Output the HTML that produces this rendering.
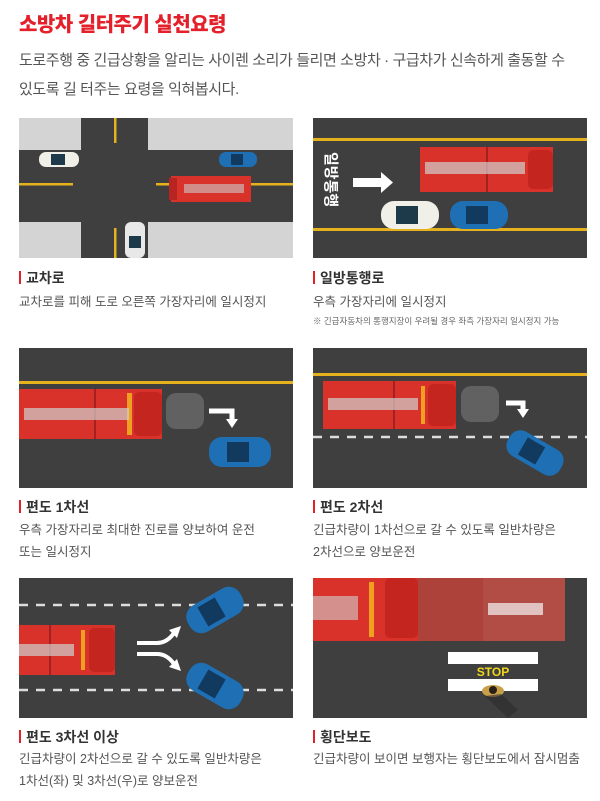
<!DOCTYPE html>
<html><head><meta charset="utf-8">
<style>
*{margin:0;padding:0;box-sizing:border-box}
body{width:600px;height:801px;background:#fff;position:relative;overflow:hidden;font-family:"Liberation Sans","Noto Sans CJK KR",sans-serif;color:#555}
.t{position:absolute;white-space:nowrap}
h1{position:absolute;left:19px;top:8px;font-size:20px;color:#e4202a;font-weight:900;letter-spacing:-0.5px}
.p{position:absolute;width:274px;height:140px}
.lab{position:absolute;font-size:14px;font-weight:bold;color:#333;padding-left:7px;white-space:nowrap}
.lab:before{content:"";position:absolute;left:0;top:3px;width:2px;height:13px;background:#e4202a}
.d{position:absolute;font-size:12.5px;color:#555;white-space:nowrap;line-height:22px}
</style></head><body>
<h1>소방차 길터주기 실천요령</h1>
<div class="t" style="left:19px;top:49px;font-size:15px;letter-spacing:-0.4px">도로주행 중 긴급상황을 알리는 사이렌 소리가 들리면 소방차 · 구급차가 신속하게 출동할 수</div>
<div class="t" style="left:19px;top:78px;font-size:15px;letter-spacing:-0.4px">있도록 길 터주는 요령을 익혀봅시다.</div>

<!-- Panel 1 -->
<svg class="p" style="left:19px;top:118px" viewBox="0 0 274 140">
<rect width="274" height="140" fill="#d4d4d4"/>
<rect x="0" y="32" width="274" height="72" fill="#3f3f3f"/>
<rect x="62" y="0" width="67" height="140" fill="#3f3f3f"/>
<rect x="0" y="65" width="54" height="2.5" fill="#e5b21d"/>
<rect x="137" y="65" width="137" height="2.5" fill="#e5b21d"/>
<rect x="95" y="0" width="2.5" height="25" fill="#e5b21d"/>
<rect x="95" y="110" width="2.5" height="30" fill="#e5b21d"/>
<rect x="20" y="34" width="40" height="15" rx="7" fill="#f0efe8"/><rect x="32" y="36" width="14" height="11" fill="#1d3a4a"/>
<rect x="200" y="34" width="38" height="15" rx="7" fill="#1f6fb5"/><rect x="212" y="36" width="12" height="11" fill="#123a5e"/>
<rect x="152" y="58" width="80" height="26" fill="#d9322b"/><rect x="150" y="60" width="8" height="22" fill="#b72421"/>
<rect x="165" y="66" width="60" height="9" fill="#c9c9c9" opacity=".6"/>
<rect x="106" y="104" width="20" height="36" rx="6" fill="#e8e8e8"/><rect x="110" y="118" width="12" height="12" fill="#1d3a4a"/>
</svg>
<div class="lab" style="left:19px;top:268px">교차로</div>
<div class="d" style="left:19px;top:291px">교차로를 피해 도로 오른쪽 가장자리에 일시정지</div>

<!-- Panel 2 -->
<svg class="p" style="left:313px;top:118px" viewBox="0 0 274 140">
<rect width="274" height="140" fill="#3f3f3f"/>
<rect x="0" y="20" width="274" height="3" fill="#e5b21d"/>
<rect x="0" y="110" width="274" height="3" fill="#e5b21d"/>
<text x="0" y="0" transform="translate(13,34) rotate(90)" font-size="15" font-weight="bold" fill="#fff" font-family="Liberation Sans,Noto Sans CJK KR,sans-serif">일방통행</text>
<rect x="40" y="60" width="28" height="9" fill="#fff"/><polygon points="68,54 80,64.5 68,75" fill="#fff"/>
<rect x="107" y="29" width="133" height="45" fill="#d9322b"/><rect x="173" y="29" width="2" height="45" fill="#a52020"/>
<rect x="215" y="32" width="25" height="39" rx="5" fill="#c4261f"/>
<rect x="112" y="44" width="100" height="12" fill="#cfcfcf" opacity=".7"/>
<rect x="68" y="83" width="58" height="28" rx="13" fill="#f0efe8"/><rect x="83" y="88" width="22" height="18" fill="#1d3a4a"/>
<rect x="137" y="83" width="58" height="28" rx="13" fill="#1f6fb5"/><rect x="153" y="88" width="22" height="18" fill="#123a5e"/>
</svg>
<div class="lab" style="left:313px;top:268px">일방통행로</div>
<div class="d" style="left:313px;top:291px">우측 가장자리에 일시정지</div>
<div class="t" style="left:313px;top:315px;font-size:8.5px;color:#666">※ 긴급자동차의 통행지장이 우려될 경우 좌측 가장자리 일시정지 가능</div>

<!-- Panel 3 -->
<svg class="p" style="left:19px;top:348px" viewBox="0 0 274 140">
<rect width="274" height="140" fill="#3f3f3f"/>
<rect x="0" y="33" width="274" height="3" fill="#e5b21d"/>
<rect x="0" y="41" width="143" height="50" fill="#d9322b"/><rect x="75" y="41" width="2" height="50" fill="#a52020"/>
<rect x="115" y="44" width="28" height="44" rx="5" fill="#c4261f"/><rect x="108" y="45" width="5" height="42" fill="#f0a020"/>
<rect x="5" y="60" width="105" height="12" fill="#cfcfcf" opacity=".7"/>
<rect x="147" y="45" width="38" height="36" rx="10" fill="#6a6a6a" opacity=".8"/>
<path d="M190 63 H213 V72" stroke="#fff" stroke-width="5" fill="none"/><polygon points="207,71 219,71 213,80" fill="#fff"/>
<rect x="190" y="89" width="62" height="30" rx="13" fill="#1f6fb5"/><rect x="208" y="94" width="22" height="20" fill="#123a5e"/>
</svg>
<div class="lab" style="left:19px;top:497px">편도 1차선</div>
<div class="d" style="left:19px;top:519px">우측 가장자리로 최대한 진로를 양보하여 운전<br>또는 일시정지</div>

<!-- Panel 4 -->
<svg class="p" style="left:313px;top:348px" viewBox="0 0 274 140">
<rect width="274" height="140" fill="#3f3f3f"/>
<rect x="0" y="25" width="274" height="3" fill="#e5b21d"/>
<line x1="0" y1="89" x2="274" y2="89" stroke="#ddd" stroke-width="2.5" stroke-dasharray="9 8"/>
<rect x="10" y="33" width="133" height="48" fill="#d9322b"/><rect x="80" y="33" width="2" height="48" fill="#a52020"/>
<rect x="115" y="36" width="28" height="42" rx="5" fill="#c4261f"/><rect x="108" y="38" width="4" height="38" fill="#f0a020"/>
<rect x="15" y="50" width="90" height="12" fill="#cfcfcf" opacity=".7"/>
<rect x="148" y="38" width="38" height="36" rx="10" fill="#6a6a6a" opacity=".8"/>
<path d="M193 55 H210 V62" stroke="#fff" stroke-width="5" fill="none"/><polygon points="204,61 216,61 210,70" fill="#fff"/>
<g transform="translate(222,105) rotate(30)"><rect x="-30" y="-14" width="60" height="28" rx="12" fill="#1f6fb5"/><rect x="-14" y="-10" width="20" height="20" fill="#123a5e"/></g>
</svg>
<div class="lab" style="left:313px;top:497px">편도 2차선</div>
<div class="d" style="left:313px;top:519px">긴급차량이 1차선으로 갈 수 있도록 일반차량은<br>2차선으로 양보운전</div>

<!-- Panel 5 -->
<svg class="p" style="left:19px;top:578px" viewBox="0 0 274 140">
<rect width="274" height="140" fill="#3f3f3f"/>
<line x1="0" y1="27" x2="274" y2="27" stroke="#ddd" stroke-width="2.5" stroke-dasharray="9 8"/>
<line x1="0" y1="112" x2="274" y2="112" stroke="#ddd" stroke-width="2.5" stroke-dasharray="9 8"/>
<rect x="0" y="47" width="96" height="50" fill="#d9322b"/><rect x="30" y="47" width="2" height="50" fill="#a52020"/>
<rect x="70" y="50" width="26" height="44" rx="5" fill="#c4261f"/><rect x="62" y="52" width="4" height="40" fill="#f0a020"/>
<rect x="0" y="66" width="55" height="12" fill="#cfcfcf" opacity=".7"/>
<path d="M118 65 H138 Q148 65 155 55" stroke="#fff" stroke-width="4" fill="none"/><polygon points="150,52 162,48 158,60" fill="#fff"/>
<path d="M118 76 H138 Q148 76 155 86" stroke="#fff" stroke-width="4" fill="none"/><polygon points="150,89 162,93 158,81" fill="#fff"/>
<g transform="translate(196,32) rotate(-30)"><rect x="-30" y="-15" width="60" height="30" rx="13" fill="#1f6fb5"/><rect x="-14" y="-11" width="20" height="22" fill="#123a5e"/></g>
<g transform="translate(196,108) rotate(30)"><rect x="-30" y="-15" width="60" height="30" rx="13" fill="#1f6fb5"/><rect x="-14" y="-11" width="20" height="22" fill="#123a5e"/></g>
</svg>
<div class="lab" style="left:19px;top:727px">편도 3차선 이상</div>
<div class="d" style="left:19px;top:748px">긴급차량이 2차선으로 갈 수 있도록 일반차량은<br>1차선(좌) 및 3차선(우)로 양보운전</div>

<!-- Panel 6 -->
<svg class="p" style="left:313px;top:578px" viewBox="0 0 274 140">
<rect width="274" height="140" fill="#3f3f3f"/>
<rect x="0" y="0" width="105" height="63" fill="#d9322b"/><rect x="72" y="0" width="33" height="60" rx="5" fill="#c4261f"/>
<rect x="56" y="4" width="5" height="55" fill="#f0a020"/><rect x="0" y="18" width="45" height="24" fill="#cfcfcf" opacity=".6"/>
<rect x="105" y="0" width="65" height="63" fill="#c8443a" opacity=".8"/>
<rect x="170" y="0" width="82" height="63" fill="#d9534a" opacity=".75"/>
<rect x="175" y="25" width="55" height="12" fill="#f4f4f4" opacity=".7"/>
<rect x="135" y="74" width="90" height="12" fill="#fff"/>
<rect x="135" y="101" width="90" height="12" fill="#fff"/>
<text x="180" y="98" text-anchor="middle" font-size="12" font-weight="bold" fill="#f0d81c" font-family="Liberation Sans,sans-serif">STOP</text>
<ellipse cx="180" cy="113" rx="11" ry="6" fill="#c9a04a"/><circle cx="180" cy="112" r="4" fill="#2a2018"/>
<path d="M172 118 L195 140 L205 132 L188 116 Z" fill="#2c2c2c" opacity=".6"/>
</svg>
<div class="lab" style="left:313px;top:727px">횡단보도</div>
<div class="d" style="left:313px;top:748px">긴급차량이 보이면 보행자는 횡단보도에서 잠시멈춤</div>
</body></html>
